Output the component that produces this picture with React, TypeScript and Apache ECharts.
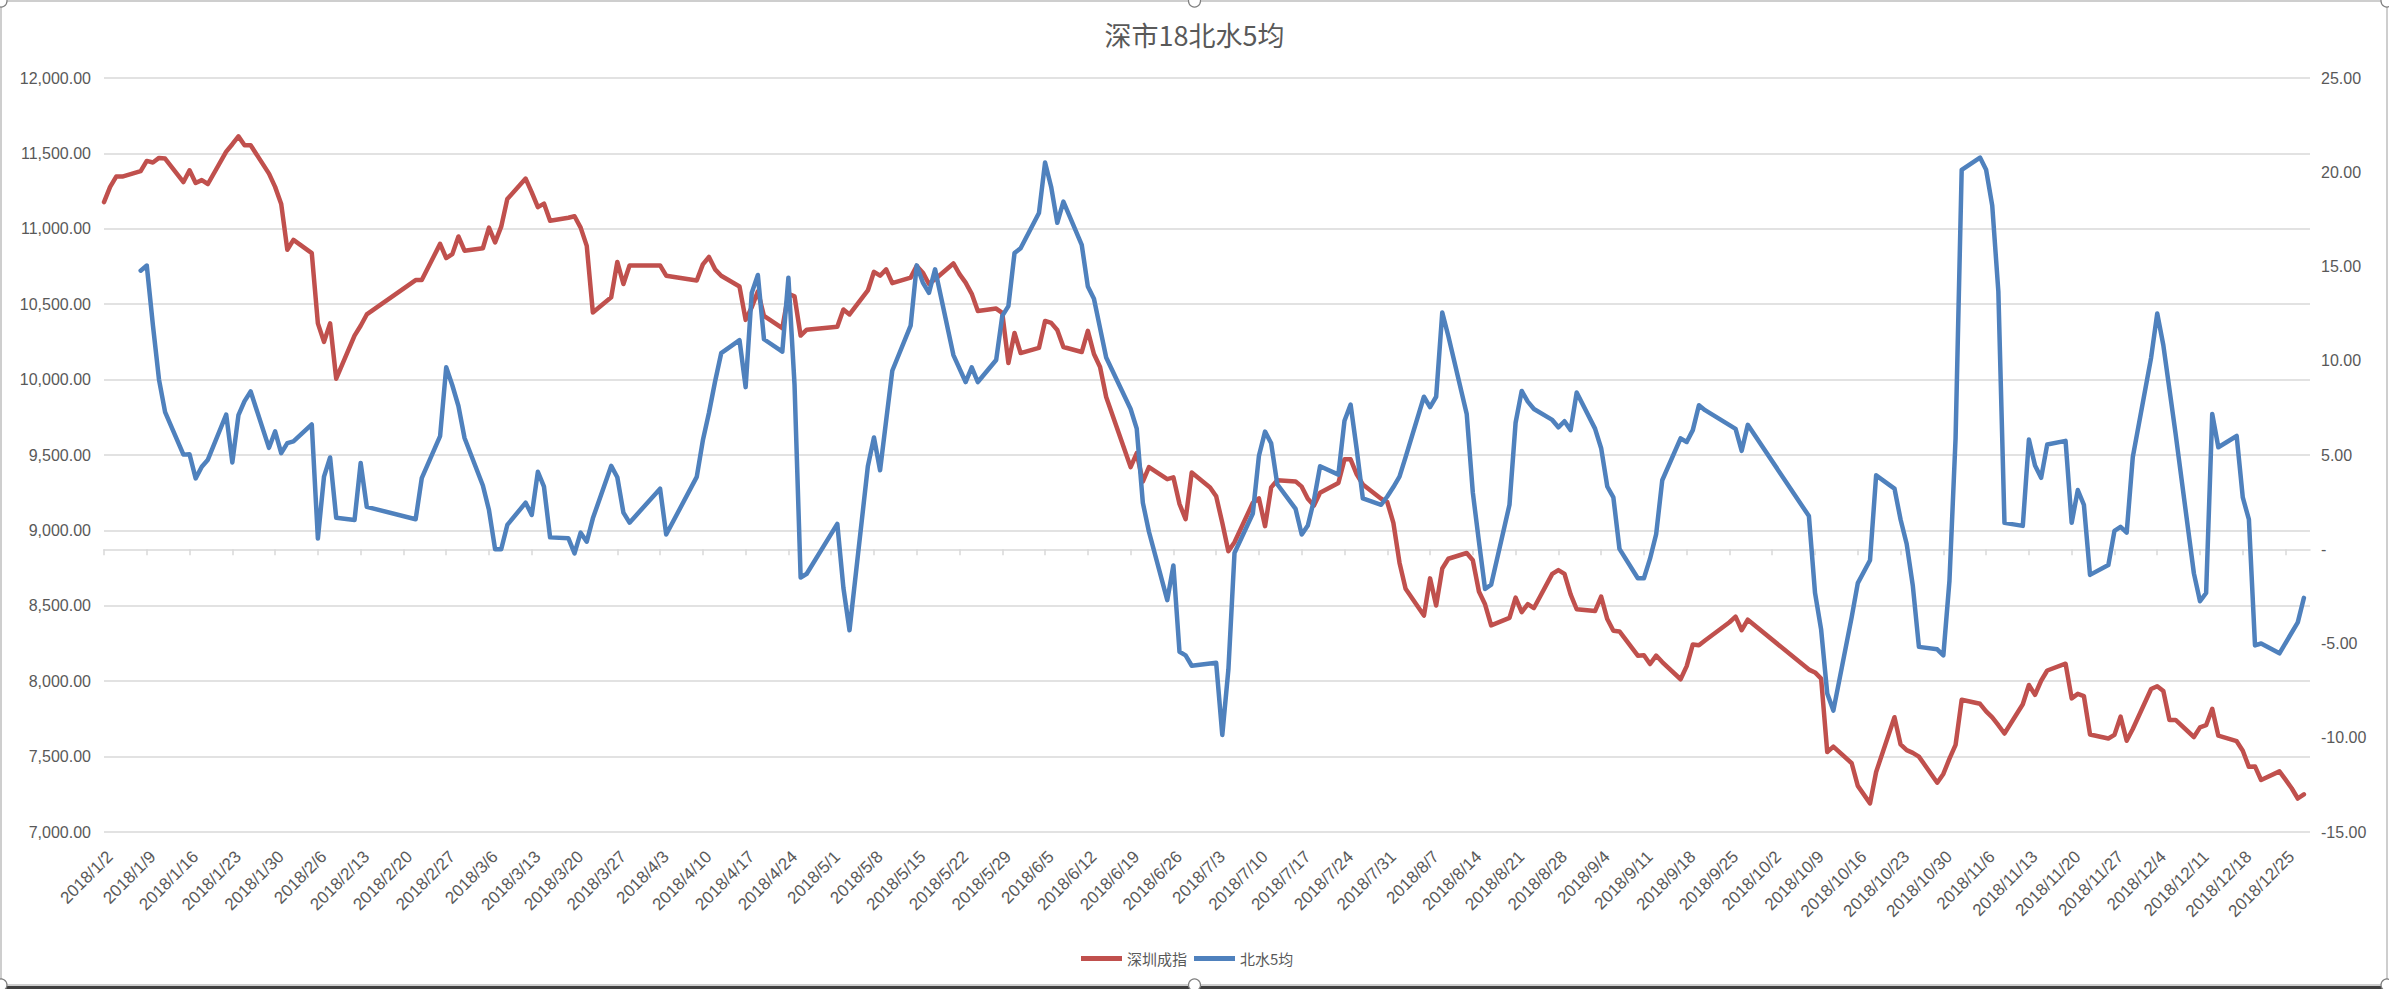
import React, { useEffect, useRef } from "react";
import * as echarts from "echarts";

// ---------------- DATA ----------------
const chartTitle = "深市18北水5均";
const seriesNames = ["深圳成指", "北水5均"];

// trading days of 2018 (Shenzhen)
const tradeDates = [
  // Jan
  "2018/1/2","2018/1/3","2018/1/4","2018/1/5","2018/1/8","2018/1/9","2018/1/10","2018/1/11","2018/1/12","2018/1/15","2018/1/16","2018/1/17","2018/1/18","2018/1/19","2018/1/22","2018/1/23","2018/1/24","2018/1/25","2018/1/26","2018/1/29","2018/1/30","2018/1/31",
  // Feb
  "2018/2/1","2018/2/2","2018/2/5","2018/2/6","2018/2/7","2018/2/8","2018/2/9","2018/2/12","2018/2/13","2018/2/14","2018/2/22","2018/2/23","2018/2/26","2018/2/27","2018/2/28",
  // Mar
  "2018/3/1","2018/3/2","2018/3/5","2018/3/6","2018/3/7","2018/3/8","2018/3/9","2018/3/12","2018/3/13","2018/3/14","2018/3/15","2018/3/16","2018/3/19","2018/3/20","2018/3/21","2018/3/22","2018/3/23","2018/3/26","2018/3/27","2018/3/28","2018/3/29","2018/3/30",
  // Apr
  "2018/4/2","2018/4/3","2018/4/4","2018/4/9","2018/4/10","2018/4/11","2018/4/12","2018/4/13","2018/4/16","2018/4/17","2018/4/18","2018/4/19","2018/4/20","2018/4/23","2018/4/24","2018/4/25","2018/4/26","2018/4/27",
  // May
  "2018/5/2","2018/5/3","2018/5/4","2018/5/7","2018/5/8","2018/5/9","2018/5/10","2018/5/11","2018/5/14","2018/5/15","2018/5/16","2018/5/17","2018/5/18","2018/5/21","2018/5/22","2018/5/23","2018/5/24","2018/5/25","2018/5/28","2018/5/29","2018/5/30","2018/5/31",
  // Jun
  "2018/6/1","2018/6/4","2018/6/5","2018/6/6","2018/6/7","2018/6/8","2018/6/11","2018/6/12","2018/6/13","2018/6/14","2018/6/15","2018/6/19","2018/6/20","2018/6/21","2018/6/22","2018/6/25","2018/6/26","2018/6/27","2018/6/28","2018/6/29",
  // Jul
  "2018/7/2","2018/7/3","2018/7/4","2018/7/5","2018/7/6","2018/7/9","2018/7/10","2018/7/11","2018/7/12","2018/7/13","2018/7/16","2018/7/17","2018/7/18","2018/7/19","2018/7/20","2018/7/23","2018/7/24","2018/7/25","2018/7/26","2018/7/27","2018/7/30","2018/7/31",
  // Aug
  "2018/8/1","2018/8/2","2018/8/3","2018/8/6","2018/8/7","2018/8/8","2018/8/9","2018/8/10","2018/8/13","2018/8/14","2018/8/15","2018/8/16","2018/8/17","2018/8/20","2018/8/21","2018/8/22","2018/8/23","2018/8/24","2018/8/27","2018/8/28","2018/8/29","2018/8/30","2018/8/31",
  // Sep
  "2018/9/3","2018/9/4","2018/9/5","2018/9/6","2018/9/7","2018/9/10","2018/9/11","2018/9/12","2018/9/13","2018/9/14","2018/9/17","2018/9/18","2018/9/19","2018/9/20","2018/9/21","2018/9/25","2018/9/26","2018/9/27","2018/9/28",
  // Oct
  "2018/10/8","2018/10/9","2018/10/10","2018/10/11","2018/10/12","2018/10/15","2018/10/16","2018/10/17","2018/10/18","2018/10/19","2018/10/22","2018/10/23","2018/10/24","2018/10/25","2018/10/26","2018/10/29","2018/10/30","2018/10/31",
  // Nov
  "2018/11/1","2018/11/2","2018/11/5","2018/11/6","2018/11/7","2018/11/8","2018/11/9","2018/11/12","2018/11/13","2018/11/14","2018/11/15","2018/11/16","2018/11/19","2018/11/20","2018/11/21","2018/11/22","2018/11/23","2018/11/26","2018/11/27","2018/11/28","2018/11/29","2018/11/30",
  // Dec
  "2018/12/3","2018/12/4","2018/12/5","2018/12/6","2018/12/7","2018/12/10","2018/12/11","2018/12/12","2018/12/13","2018/12/14","2018/12/17","2018/12/18","2018/12/19","2018/12/20","2018/12/21","2018/12/24","2018/12/25","2018/12/26","2018/12/27","2018/12/28",
];

// 深圳成指 (left axis)
const szIndex = [
  11177, 11278, 11346, 11346, 11382, 11450, 11440, 11470, 11466, 11310, 11388, 11304, 11323, 11297, 11512, 11561, 11613, 11554, 11554, 11366, 11278, 11164,
  10861, 10927, 10839, 10373, 10250, 10373, 10006, 10292, 10357, 10432, 10660, 10660, 10900, 10806, 10832,
  10949, 10855, 10871, 11008, 10910, 11014, 11197, 11333, 11242, 11144, 11167, 11053, 11073, 11083, 11008, 10887, 10445, 10546, 10780, 10634, 10757, 10757,
  10757, 10757, 10689, 10657, 10764, 10813, 10731, 10689, 10617, 10396, 10480, 10585, 10422, 10341, 10569, 10552, 10292, 10331,
  10351, 10465, 10432, 10591, 10715, 10689, 10731, 10640, 10676, 10754, 10709, 10634, 10666, 10770, 10699, 10643, 10569, 10455, 10471, 10442, 10110, 10309,
  10176, 10210, 10389, 10376, 10329, 10216, 10183, 10323, 10170, 10084, 9885, 9420, 9512, 9324, 9420, 9340, 9352, 9175, 9075, 9384,
  9285, 9226, 9050, 8862, 8921, 9183, 9212, 9028, 9285, 9333, 9325, 9290, 9210, 9165, 9250, 9314, 9471, 9471, 9372, 9305, 9210, 9188,
  9050, 8786, 8613, 8435, 8682, 8502, 8747, 8812, 8850, 8802, 8595, 8510, 8370, 8420, 8554, 8458, 8511, 8485, 8712, 8737, 8712, 8576, 8477,
  8465, 8561, 8412, 8334, 8330, 8169, 8172, 8114, 8170, 8127, 8013, 8100, 8244, 8238, 8270, 8391, 8428, 8338, 8408,
  8077, 8058, 8017, 7530, 7566, 7456, 7306, 7248, 7190, 7398, 7761, 7581, 7543, 7525, 7500, 7327, 7385, 7486,
  7578, 7877, 7850, 7800, 7760, 7708, 7653, 7847, 7975, 7910, 8003, 8071, 8116, 7886, 7916, 7901, 7647, 7620, 7644, 7765, 7605, 7683,
  7948, 7967, 7935, 7743, 7743, 7630, 7694, 7708, 7817, 7639, 7602, 7539, 7432, 7435, 7345, 7402, 7347, 7290, 7222, 7250,
];

// 北水5均 (right axis); null = no northbound trading that day
const northbound5 = [
  null, null, null, null, 14.78, 15.05, 11.9, 9.0, 7.27, 5.02, 5.04, 3.76, 4.38, 4.75, 7.15, 4.6, 7.11, 7.86, 8.37, 5.38, 6.25, 5.1,
  5.63, 5.72, 6.62, 0.57, 3.85, 4.87, 1.67, 1.55, 4.58, 2.25, 1.59, 3.77, 6.0, 9.65, 8.7,
  7.6, 5.9, 3.38, 2.08, 0.0, 0.0, 1.29, 2.47, 1.82, 4.11, 3.32, 0.63, 0.58, -0.22, 0.88, 0.4, 1.64, 4.42, 3.82, 1.94, 1.41, null,
  null, 3.21, 0.78, 3.84, 5.78, 7.24, 8.9, 10.4, 11.09, 8.6, 13.6, 14.55, 11.14, 10.48, 14.4, 8.74, -1.5, -1.3,
  1.35, -2.05, -4.3, 4.4, 5.93, 4.19, 6.84, 9.47, 11.86, 15.06, 14.15, 13.6, 14.85, 10.3, null, 8.87, 9.65, 8.87, 10.04, 12.38, 12.9, 15.71,
  15.97, 17.84, 20.52, 19.22, 17.32, 18.44, 16.15, 13.94, 13.29, 11.73, 10.17, 7.44, 6.4, 2.47, 0.93, -2.7, -0.86, -5.44, -5.63, -6.18,
  null, -6.02, -9.85, -6.38, -0.2, 1.9, 4.96, 6.24, 5.62, 3.45, 2.14, 0.78, 1.26, 2.6, 4.4, 3.96, 6.82, 7.68, 5.3, 2.7, 2.36, 2.8,
  3.3, 3.85, 4.89, 8.09, 7.54, 8.09, 12.56, 11.3, 7.18, 3.01, 0.41, -2.11, -1.88, 2.36, 6.71, 8.4, 7.83, 7.44, 6.86, 6.47, 6.79, 6.32, 8.32,
  6.4, 5.36, 3.33, 2.75, 0.02, -1.54, -1.54, -0.5, 0.8, 3.66, 5.88, 5.69, 6.32, 7.64, 7.38, null, 6.39, 5.22, 6.6,
  1.76, -2.32, -4.27, -7.65, -8.56, -3.6, -1.8, null, -0.58, 3.92, 3.22, 1.58, 0.28, -1.93, -5.18, -5.31, -5.63, -1.67,
  5.88, 20.13, 20.78, 20.13, 18.23, 13.68, 1.4, 1.24, 5.82, 4.44, 3.79, 5.56, 5.75, 1.4, 3.14, 2.36, -1.36, -0.84, 0.98, 1.19, 0.88, 4.89,
  10.17, 12.51, 10.82, 8.48, 6.14, -1.28, -2.76, -2.32, 7.18, 5.41, 6.01, 2.75, 1.58, -5.1, -5.0, -5.52, null, null, -3.88, -2.58,
];

// weekly tick labels on the date axis
const xTickLabels = [
  "2018/1/2","2018/1/9","2018/1/16","2018/1/23","2018/1/30","2018/2/6","2018/2/13","2018/2/20","2018/2/27",
  "2018/3/6","2018/3/13","2018/3/20","2018/3/27","2018/4/3","2018/4/10","2018/4/17","2018/4/24","2018/5/1",
  "2018/5/8","2018/5/15","2018/5/22","2018/5/29","2018/6/5","2018/6/12","2018/6/19","2018/6/26","2018/7/3",
  "2018/7/10","2018/7/17","2018/7/24","2018/7/31","2018/8/7","2018/8/14","2018/8/21","2018/8/28","2018/9/4",
  "2018/9/11","2018/9/18","2018/9/25","2018/10/2","2018/10/9","2018/10/16","2018/10/23","2018/10/30","2018/11/6",
  "2018/11/13","2018/11/20","2018/11/27","2018/12/4","2018/12/11","2018/12/18","2018/12/25",
];
const axisStartDate = "2018/1/2";
const axisEndDate = "2018/12/29";

// ---------------- helpers ----------------
const DAY = 86400000;
function toUTC(s: string) {
  const [y, m, d] = s.split("/").map(Number);
  return Date.UTC(y, m - 1, d);
}
const t0 = toUTC(axisStartDate);
function dayIndex(s: string) {
  return Math.round((toUTC(s) - t0) / DAY);
}
function fmtThousands(v: number) {
  const s = Math.abs(v).toFixed(2);
  const [i, d] = s.split(".");
  return (v < 0 ? "-" : "") + i.replace(/\B(?=(\d{3})+(?!\d))/g, ",") + "." + d;
}

const tickDays = xTickLabels.map(dayIndex);
const tickLabelMap: Record<number, string> = {};
xTickLabels.forEach((l, i) => (tickLabelMap[tickDays[i]] = l));

const W = 2389;
const H = 989;
const FONT = '"Liberation Sans", Arial, sans-serif';
const CJK = '"Noto Sans CJK SC", "Noto Sans", sans-serif';
const TXT = "#595959";
const GRIDC = "#d9d9d9";

export default function App() {
  const ref = useRef<HTMLDivElement>(null);
  useEffect(() => {
    if (!ref.current) return;
    const chart = echarts.init(ref.current, undefined, { renderer: "svg" });
    const redData = tradeDates.map((d, i) => [dayIndex(d), szIndex[i]]);
    const blueData = tradeDates
      .map((d, i) => [dayIndex(d), northbound5[i]])
      .filter((p) => p[1] !== null);

    chart.setOption({
      animation: false,
      backgroundColor: "#ffffff",
      title: {
        text: chartTitle,
        left: "center",
        top: 16,
        textStyle: { fontFamily: CJK, fontSize: 27, fontWeight: "normal", color: TXT },
      },
      legend: {
        left: 1076,
        top: 946,
        icon: "rect",
        itemWidth: 41,
        itemHeight: 5,
        itemGap: 7,
        textStyle: { fontFamily: CJK, fontSize: 15, color: TXT },
        data: seriesNames,
      },
      grid: { left: 104, right: W - 2310, top: 78, bottom: H - 832, containLabel: false },
      xAxis: {
        type: "value",
        min: 0,
        max: dayIndex(axisEndDate),
        interval: 7,
        axisLine: { show: true, lineStyle: { color: GRIDC, width: 1.5 } },
        axisTick: {
          show: true,
          inside: false,
          length: 6,
          customValues: tickDays,
          lineStyle: { color: GRIDC, width: 1.5 },
        },
        axisLabel: {
          customValues: tickDays,
          rotate: 45,
          margin: 16,
          align: "right",
          verticalAlign: "top",
          fontFamily: FONT,
          fontSize: 17,
          color: TXT,
          formatter: (v: number) => tickLabelMap[v] ?? "",
        },
        splitLine: { show: false },
      },
      yAxis: [
        {
          type: "value",
          position: "left",
          min: 7000,
          max: 12000,
          interval: 500,
          axisLine: { show: false },
          axisTick: { show: false },
          axisLabel: { margin: 13, fontFamily: FONT, fontSize: 16, color: TXT, formatter: (v: number) => fmtThousands(v) },
          splitLine: { show: true, lineStyle: { color: GRIDC, width: 1.5 } },
        },
        {
          type: "value",
          position: "right",
          min: -15,
          max: 25,
          interval: 5,
          axisLine: { show: false },
          axisTick: { show: false },
          axisLabel: {
            margin: 11,
            fontFamily: FONT,
            fontSize: 16,
            color: TXT,
            formatter: (v: number) => (Math.abs(v) < 1e-9 ? "-" : v.toFixed(2)),
          },
          splitLine: { show: false },
        },
      ],
      series: [
        {
          name: seriesNames[0],
          type: "line",
          yAxisIndex: 0,
          data: redData,
          symbol: "none",
          color: "#C0504D",
          lineStyle: { color: "#C0504D", width: 4.5, join: "round", cap: "round" },
        },
        {
          name: seriesNames[1],
          type: "line",
          yAxisIndex: 1,
          data: blueData,
          symbol: "none",
          connectNulls: true,
          color: "#4F81BD",
          lineStyle: { color: "#4F81BD", width: 4.5, join: "round", cap: "round" },
        },
      ],
      graphic: [
        {
          type: "rect",
          silent: true,
          shape: { x: 1, y: 1, width: W - 3, height: 984 },
          style: { fill: "none", stroke: "#bfbfbf", lineWidth: 1.5 },
        },
        {
          type: "rect",
          silent: true,
          shape: { x: 0, y: 986, width: W, height: 3 },
          style: { fill: "#404040" },
        },
        ...[
          [1, 1], [W / 2, 1], [W - 2, 1],
          [1, 985], [W / 2, 985], [W - 2, 985],
        ].map(([cx, cy]) => ({
          type: "circle",
          silent: true,
          shape: { cx, cy, r: 6 },
          style: { fill: "#ffffff", stroke: "#7f7f7f", lineWidth: 1.2 },
        })),
      ],
    });
    return () => chart.dispose();
  }, []);
  return (
    <div
      ref={ref}
      style={{ position: "fixed", left: 0, top: 0, width: W, height: H, background: "#fff" }}
    />
  );
}
